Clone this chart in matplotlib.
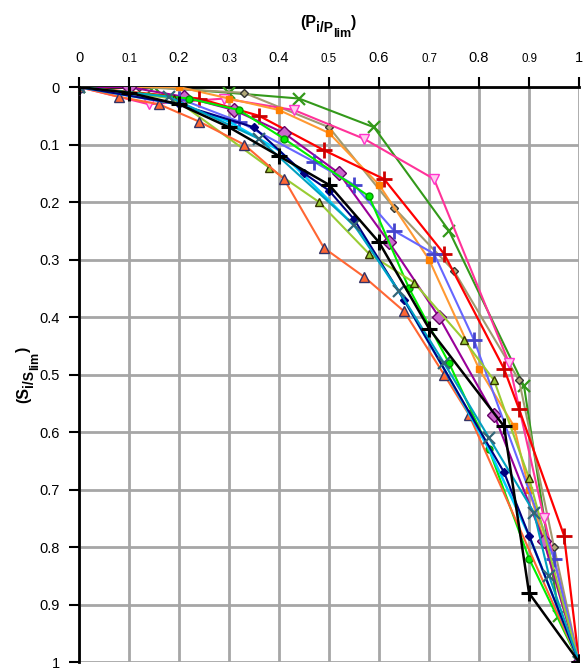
import matplotlib
matplotlib.use("Agg")
import matplotlib.pyplot as plt

plt.rcParams['font.family'] = ['Liberation Sans', 'DejaVu Sans']

# normalised load (Pi/Plim) and settlement (Si/Slim) per test
green_x_p = [0, 0.15, 0.30, 0.44, 0.59, 0.74, 0.89, 0.96, 1]
green_x_s = [0, 0, 0.01, 0.02, 0.07, 0.25, 0.52, 0.92, 1]

tan_p = [0, 0.12, 0.33, 0.50, 0.63, 0.75, 0.88, 0.95, 1]
tan_s = [0, 0, 0.01, 0.07, 0.21, 0.32, 0.51, 0.80, 1]

pink_p = [0, 0.14, 0.29, 0.43, 0.57, 0.71, 0.86, 0.93, 1]
pink_s = [0, 0.03, 0.02, 0.04, 0.09, 0.16, 0.48, 0.75, 1]

orange_p = [0, 0.20, 0.30, 0.40, 0.50, 0.60, 0.70, 0.80, 0.87, 0.90, 1]
orange_s = [0, 0, 0.02, 0.04, 0.08, 0.17, 0.30, 0.49, 0.59, 0.70, 1]

red_p = [0, 0.24, 0.36, 0.49, 0.61, 0.73, 0.85, 0.88, 0.97, 1]
red_s = [0, 0.02, 0.05, 0.11, 0.16, 0.29, 0.49, 0.56, 0.78, 1]

purple_p = [0, 0.10, 0.21, 0.31, 0.41, 0.52, 0.62, 0.72, 0.83, 0.93, 1]
purple_s = [0, 0, 0.017, 0.04, 0.08, 0.15, 0.27, 0.40, 0.57, 0.79, 1]

lav_p = [0, 0.20, 0.32, 0.47, 0.55, 0.63, 0.71, 0.79, 0.95, 1]
lav_s = [0, 0.02, 0.06, 0.13, 0.17, 0.25, 0.29, 0.44, 0.82, 1]

lime_p = [0, 0.22, 0.32, 0.41, 0.58, 0.66, 0.74, 0.82, 0.90, 1]
lime_s = [0, 0.02, 0.04, 0.09, 0.19, 0.35, 0.48, 0.63, 0.82, 1]

olive_p = [0, 0.19, 0.38, 0.48, 0.58, 0.67, 0.77, 0.83, 0.90, 1]
olive_s = [0, 0.02, 0.14, 0.20, 0.29, 0.34, 0.44, 0.51, 0.68, 1]

coral_p = [0, 0.08, 0.16, 0.24, 0.33, 0.41, 0.49, 0.57, 0.65, 0.73, 0.78, 1]
coral_s = [0, 0.017, 0.03, 0.06, 0.10, 0.16, 0.28, 0.33, 0.39, 0.50, 0.57, 1]

cyan_p = [0, 0.20, 0.30, 0.40, 0.48, 0.56, 0.65, 0.73, 0.82, 0.90, 1]
cyan_s = [0, 0.03, 0.06, 0.11, 0.18, 0.25, 0.37, 0.49, 0.63, 0.78, 1]

navy_p = [0, 0.20, 0.35, 0.45, 0.50, 0.55, 0.65, 0.85, 0.90, 1]
navy_s = [0, 0.03, 0.07, 0.15, 0.18, 0.23, 0.37, 0.67, 0.78, 1]

teal_p = [0, 0.18, 0.36, 0.55, 0.64, 0.73, 0.82, 0.91, 0.94, 1]
teal_s = [0, 0.017, 0.09, 0.24, 0.355, 0.48, 0.61, 0.74, 0.85, 1]

black_p = [0, 0.10, 0.20, 0.30, 0.40, 0.50, 0.60, 0.70, 0.85, 0.90, 1]
black_s = [0, 0.01, 0.03, 0.07, 0.12, 0.17, 0.27, 0.42, 0.59, 0.88, 1]

ticks = [0, 0.1, 0.2, 0.3, 0.4, 0.5, 0.6, 0.7, 0.8, 0.9, 1]
tick_labels = ['0', '0.1', '0.2', '0.3', '0.4', '0.5', '0.6', '0.7', '0.8', '0.9', '1']

W, H = 584, 670
fig = plt.figure(figsize=(W / 100, H / 100), dpi=100)
ax = fig.add_axes([0.1353, 0.0119, 0.8562, 0.8582])

ax.plot(green_x_p, green_x_s, color='#33991A', lw=1.5, marker='x', ms=9, mew=1.6)
ax.plot(tan_p, tan_s, color='#A09A70', lw=1.5, marker='D', ms=4.5, mfc='#B0A878', mec='#333333')
ax.plot(pink_p, pink_s, color='#FF3399', lw=1.5, marker='v', ms=7, mfc='#FFCCEE', mec='#FF33CC')
ax.plot(orange_p, orange_s, color='#FF9933', lw=1.5, marker='s', ms=5, mfc='#FF7F00', mec='#FF7F00')
ax.plot(red_p, red_s, color='#FF0000', lw=1.6, marker='+', ms=12, mew=2, mec='#CC0000')
ax.plot(purple_p, purple_s, color='#990099', lw=1.5, marker='D', ms=7, mfc='#CC66CC', mec='#660066')
ax.plot(lav_p, lav_s, color='#6666FF', lw=1.5, marker='+', ms=12, mew=2, mec='#4444CC')
ax.plot(lime_p, lime_s, color='#00EE00', lw=1.5, marker='o', ms=5, mfc='#00EE00', mec='#009900')
ax.plot(olive_p, olive_s, color='#99CC33', lw=1.5, marker='^', ms=6, mfc='#99CC33', mec='#333300')
ax.plot(coral_p, coral_s, color='#FF6633', lw=1.5, marker='^', ms=7, mfc='#FF6633', mec='#333366')
ax.plot(cyan_p, cyan_s, color='#00CCFF', lw=1.8)
ax.plot(navy_p, navy_s, color='#000080', lw=1.5, marker='D', ms=4.5, mfc='#000080', mec='#000080')
ax.plot(teal_p, teal_s, color='#00A0C0', lw=1.5, marker='x', ms=9, mew=1.6, mec='#336677')
ax.plot(black_p, black_s, color='#000000', lw=1.8, marker='+', ms=12, mew=2.2)

ax.set_xlim(0, 1)
ax.set_ylim(1, 0)
ax.set_xticks(ticks)
ax.set_xticklabels(tick_labels)
ax.set_yticks(ticks)
ax.set_yticklabels(tick_labels)
ax.xaxis.tick_top()

ax.tick_params(axis='x', length=7, width=1.5, pad=9, labelsize=10.5)
ax.tick_params(axis='y', length=7, width=1.5, pad=7, labelsize=10.5)
for i, lab in enumerate(ax.get_xticklabels()):
    if i % 2 == 1:
        lab.set_fontsize(8.3)

ax.grid(True, color='#A6A6A6', lw=2)
ax.set_axisbelow(True)
for side in ['right', 'bottom']:
    ax.spines[side].set_visible(False)
for side in ['top', 'left']:
    ax.spines[side].set_linewidth(2)
    ax.spines[side].set_zorder(1.5)

# axis titles drawn piece by piece: main letter, lowered "i/P", lower "lim"
renderer = fig.canvas.get_renderer()
pieces = [('(P', 11.5, 0), ('i/P', 10, -5), ('lim', 9, -10), (')', 11.5, 0)]

x = 300
for txt, size, dy in pieces:
    t = fig.text(x / W, (H - 27 + dy) / H, txt, fontsize=size, weight='bold',
                 ha='left', va='baseline')
    x = t.get_window_extent(renderer).x1

y = 267
for txt, size, dy in pieces:
    t = fig.text((28 - dy) / W, y / H, txt.replace('P', 'S'), fontsize=size,
                 weight='bold', rotation=90, rotation_mode='anchor',
                 ha='left', va='baseline')
    y = t.get_window_extent(renderer).y1

fig.savefig('out.png', dpi=100)
